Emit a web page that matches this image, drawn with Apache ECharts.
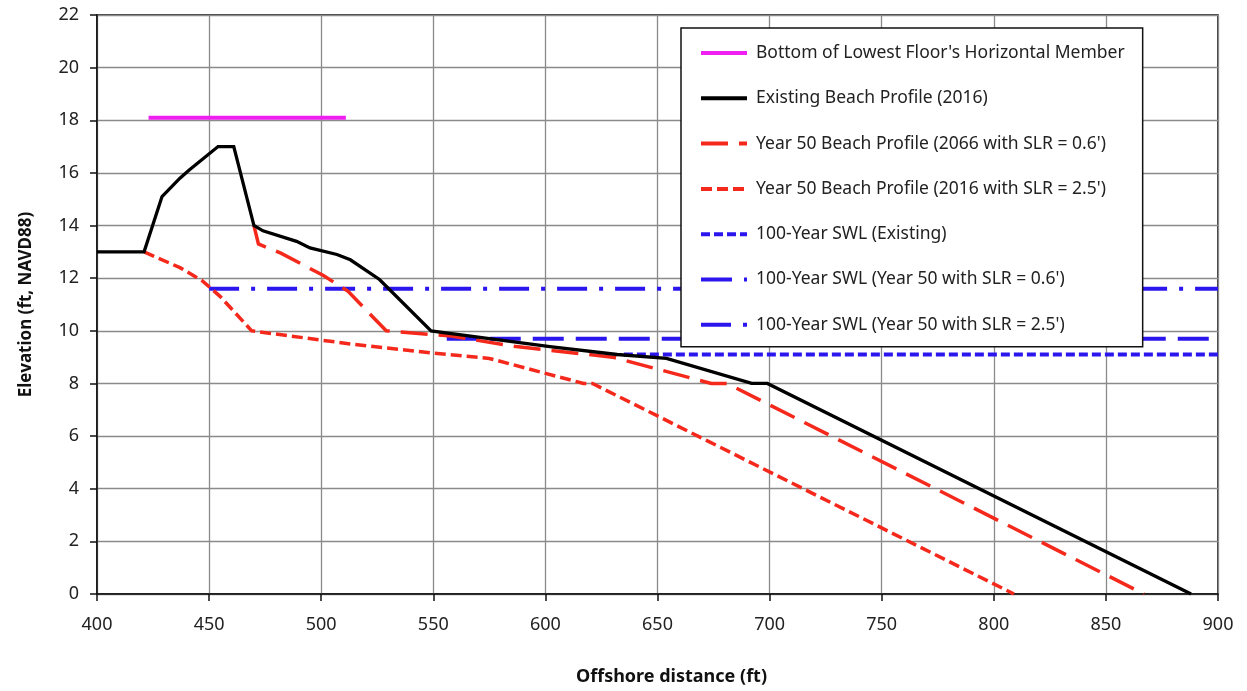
<!DOCTYPE html>
<html>
<head>
<meta charset="utf-8">
<script src="https://cdn.jsdelivr.net/npm/echarts@6/dist/echarts.min.js"></script>
<style>
  html, body { margin: 0; padding: 0; background: #fff; }
  #chart { width: 1247px; height: 691px; }
</style>
</head>
<body>
<div id="chart"></div>
<script>
// offshore distance (ft) / elevation (ft, NAVD88) pairs
const floorMember = [[423, 18.1], [511, 18.1]];
const existingProfile = [
  [400, 13], [421, 13], [429, 15.1], [437, 15.8], [441, 16.1], [454, 17], [461, 17],
  [470, 14], [474, 13.8], [489, 13.4], [495, 13.15], [507, 12.9], [513, 12.7],
  [526, 11.95], [549, 10], [575, 9.7], [602, 9.4], [632, 9.1], [654, 8.95],
  [692, 8], [699, 8], [888, 0]
];
const year50Slr06 = [
  [470, 14], [472, 13.3], [482, 12.95], [501, 12.1], [512, 11.5], [529, 10],
  [558, 9.8], [587, 9.4], [630, 9], [674, 8], [681, 8], [867, 0]
];
const year50Slr25 = [
  [421, 13], [437, 12.4], [447, 11.9], [455, 11.3], [469, 10], [513, 9.5],
  [550, 9.15], [575, 8.95], [617, 8], [621, 8], [809, 0]
];
const swlExisting = [[635, 9.1], [900, 9.1]];
const swlSlr06 = [[556, 9.7], [900, 9.7]];
const swlSlr25 = [[450, 11.6], [900, 11.6]];

const names = [
  "Bottom of Lowest Floor's Horizontal Member",
  'Existing Beach Profile (2016)',
  "Year 50 Beach Profile (2066 with SLR = 0.6')",
  "Year 50 Beach Profile (2016 with SLR = 2.5')",
  '100-Year SWL (Existing)',
  "100-Year SWL (Year 50 with SLR = 0.6')",
  "100-Year SWL (Year 50 with SLR = 2.5')"
];

const RED = '#f5281c';
const BLUE = '#2c16ee';

function line(name, data, color, width, type) {
  return {
    name: name,
    type: 'line',
    data: data,
    symbol: 'none',
    silent: true,
    animation: false,
    lineStyle: { color: color, width: width, type: type || 'solid', cap: 'butt', join: 'miter' },
    itemStyle: { color: color }
  };
}

const chart = echarts.init(document.getElementById('chart'));
chart.setOption({
  backgroundColor: '#fff',
  animation: false,
  grid: {
    left: 97, right: 29, top: 15, bottom: 96,
    show: true, borderColor: '#000', borderWidth: 1.5, backgroundColor: 'transparent'
  },
  legend: {
    orient: 'vertical',
    left: 681, top: 28,
    data: names,
    itemWidth: 46, itemHeight: 20, itemGap: 27.3,
    padding: [16, 18, 13, 18],
    backgroundColor: '#fff',
    borderColor: '#111', borderWidth: 1.5,
    itemStyle: { opacity: 0 },
    lineStyle: { width: 4, type: 'inherit', cap: 'butt' },
    textStyle: { fontFamily: 'Noto Sans', fontSize: 17.5, color: '#222', padding: [0, 0, 0, 4] },
    selectedMode: false
  },
  xAxis: {
    type: 'value', min: 400, max: 900, interval: 50,
    name: 'Offshore distance (ft)', nameLocation: 'middle', nameGap: 74,
    nameTextStyle: { fontFamily: 'Noto Sans', fontWeight: 'bold', fontSize: 18, color: '#111', padding: [0, 0, 0, 28] },
    axisLine: { show: true, onZero: false, lineStyle: { color: '#111', width: 1.5 } },
    axisTick: { show: true, inside: false, length: 7, lineStyle: { color: '#111', width: 1.5 } },
    axisLabel: { fontFamily: 'Noto Sans', fontSize: 18, color: '#222', margin: 22 },
    splitLine: { show: true, lineStyle: { color: '#8a8a8a', width: 1.3 } }
  },
  yAxis: {
    type: 'value', min: 0, max: 22, interval: 2,
    name: 'Elevation (ft, NAVD88)', nameLocation: 'middle', nameGap: 62,
    nameTextStyle: { fontFamily: 'Noto Sans', fontWeight: 'bold', fontSize: 17, color: '#111' },
    axisLine: { show: true, onZero: false, lineStyle: { color: '#111', width: 1.5 } },
    axisTick: { show: true, inside: false, length: 7, lineStyle: { color: '#111', width: 1.5 } },
    axisLabel: { fontFamily: 'Noto Sans', fontSize: 18, color: '#222', margin: 18 },
    splitLine: { show: true, lineStyle: { color: '#8a8a8a', width: 1.3 } }
  },
  series: [
    line(names[4], swlExisting, BLUE, 4, [9, 4]),
    line(names[5], swlSlr06, BLUE, 4, [31, 12]),
    line(names[6], swlSlr25, BLUE, 4, [30, 12, 4, 12]),
    line(names[3], year50Slr25, RED, 3.5, [11, 5]),
    line(names[2], year50Slr06, RED, 3.5, [27, 11]),
    line(names[1], existingProfile, '#000', 3.3),
    line(names[0], floorMember, '#ee1ff0', 4)
  ]
});

window.addEventListener('resize', function () {
  chart.resize();
});
</script>
</body>
</html>
